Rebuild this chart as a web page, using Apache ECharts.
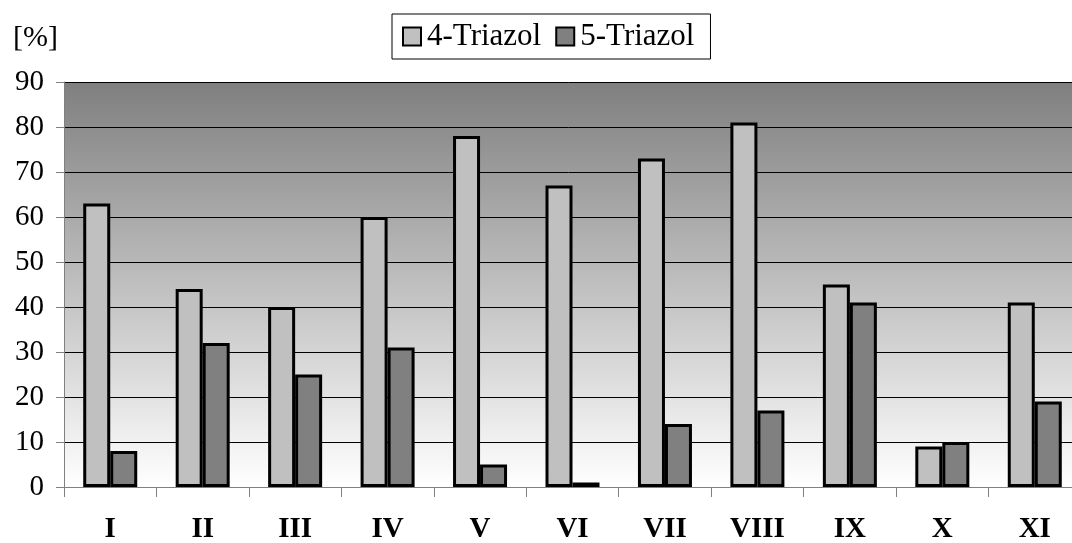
<!DOCTYPE html>
<html>
<head>
<meta charset="utf-8">
<script src="https://cdn.jsdelivr.net/npm/echarts@6/dist/echarts.min.js"></script>
<style>
  html, body { margin: 0; padding: 0; background: #fff; }
  #chart { width: 1072px; height: 543px; }
</style>
</head>
<body>
<div id="chart"></div>
<script>
var categories = ["I", "II", "III", "IV", "V", "VI", "VII", "VIII", "IX", "X", "XI"];
var triazol4 = [63, 44, 40, 60, 78, 67, 73, 81, 45, 9, 41];
var triazol5 = [8, 32, 25, 31, 5, 1, 14, 17, 41, 10, 19];
var seriesNames = ["4-Triazol", "5-Triazol"];

var chart = echarts.init(document.getElementById("chart"));
var serif = "'Liberation Serif', serif";

chart.setOption({
  animation: false,
  title: {
    text: "[%]",
    left: 8,
    top: 18,
    textStyle: { fontFamily: serif, fontWeight: "normal", fontSize: 30, color: "#000" }
  },
  legend: {
    data: seriesNames,
    top: 14,
    left: 392,
    orient: "horizontal",
    icon: "rect",
    itemWidth: 18,
    itemHeight: 18,
    itemGap: 14,
    padding: [7, 16, 7, 10],
    borderColor: "#000",
    borderWidth: 1,
    textStyle: { fontFamily: serif, fontSize: 31, color: "#000", padding: [0, 0, 0, 1] }
  },
  grid: {
    left: 64,
    right: -9,
    top: 82,
    bottom: 56,
    outerBoundsMode: "none",
    containLabel: false,
    show: true,
    borderWidth: 0,
    backgroundColor: new echarts.graphic.LinearGradient(0, 0, 0, 1, [
      { offset: 0, color: "#7f7f7f" },
      { offset: 1, color: "#ffffff" }
    ])
  },
  xAxis: {
    type: "category",
    data: categories,
    axisLine: { show: true, lineStyle: { color: "#808080", width: 1 } },
    axisTick: { show: true, length: 10, lineStyle: { color: "#808080" } },
    axisLabel: { margin: 28, fontFamily: serif, fontWeight: "bold", fontSize: 29, color: "#000" }
  },
  yAxis: {
    type: "value",
    min: 0,
    max: 90,
    interval: 10,
    axisLine: { show: true, lineStyle: { color: "#808080", width: 1 } },
    axisTick: { show: true, length: 8, lineStyle: { color: "#808080" } },
    axisLabel: { margin: 20, fontFamily: serif, fontSize: 29, color: "#000" },
    splitLine: { show: true, lineStyle: { color: "#000", width: 1 } }
  },
  series: [
    {
      name: seriesNames[0],
      type: "bar",
      data: triazol4,
      barWidth: 27,
      barGap: "0%",
      itemStyle: { color: "#c0c0c0", borderColor: "#000", borderWidth: 3 }
    },
    {
      name: seriesNames[1],
      type: "bar",
      data: triazol5,
      barWidth: 27,
      itemStyle: { color: "#808080", borderColor: "#000", borderWidth: 3 }
    }
  ]
});
</script>
</body>
</html>
